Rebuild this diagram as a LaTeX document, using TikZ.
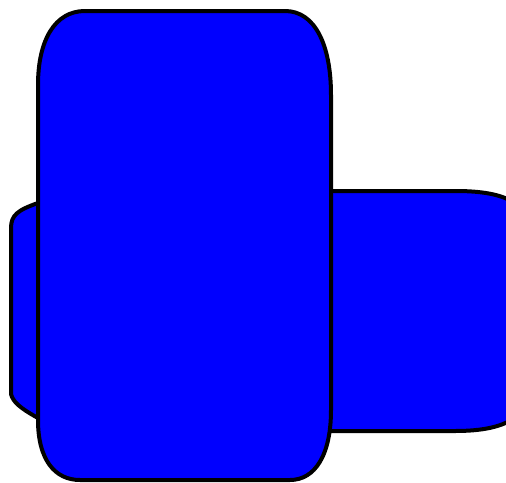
\documentclass[tikz,border=0pt]{standalone}
\begin{document}
\begin{tikzpicture}[x=1pt,y=-1pt,
  blob/.style={draw=black,fill={rgb,255:red,0;green,0;blue,255},line width=4pt,line join=round}]
\useasboundingbox (0,0) rectangle (506,482);
\clip (0,0) rectangle (506,482);
% wide shape (behind)
\path[blob] (11,228) .. controls (11,215) and (18,210) .. (38,203)
  -- (60,191)
  -- (455,191) .. controls (500,191) and (532,200) .. (532,240)
  -- (532,380) .. controls (532,420) and (500,431) .. (455,431)
  -- (60,431) -- (38,418) .. controls (20,408) and (13,402) .. (11,394) -- cycle;
% tall shape (front)
\path[blob] (38,85) .. controls (38,40) and (55,11) .. (85,11)
  -- (285,11) .. controls (315,11) and (331,45) .. (331,95)
  -- (331,410) .. controls (331,455) and (315,480) .. (290,480)
  -- (80,480) .. controls (55,480) and (38,460) .. (38,420) -- cycle;
\end{tikzpicture}
\end{document}
